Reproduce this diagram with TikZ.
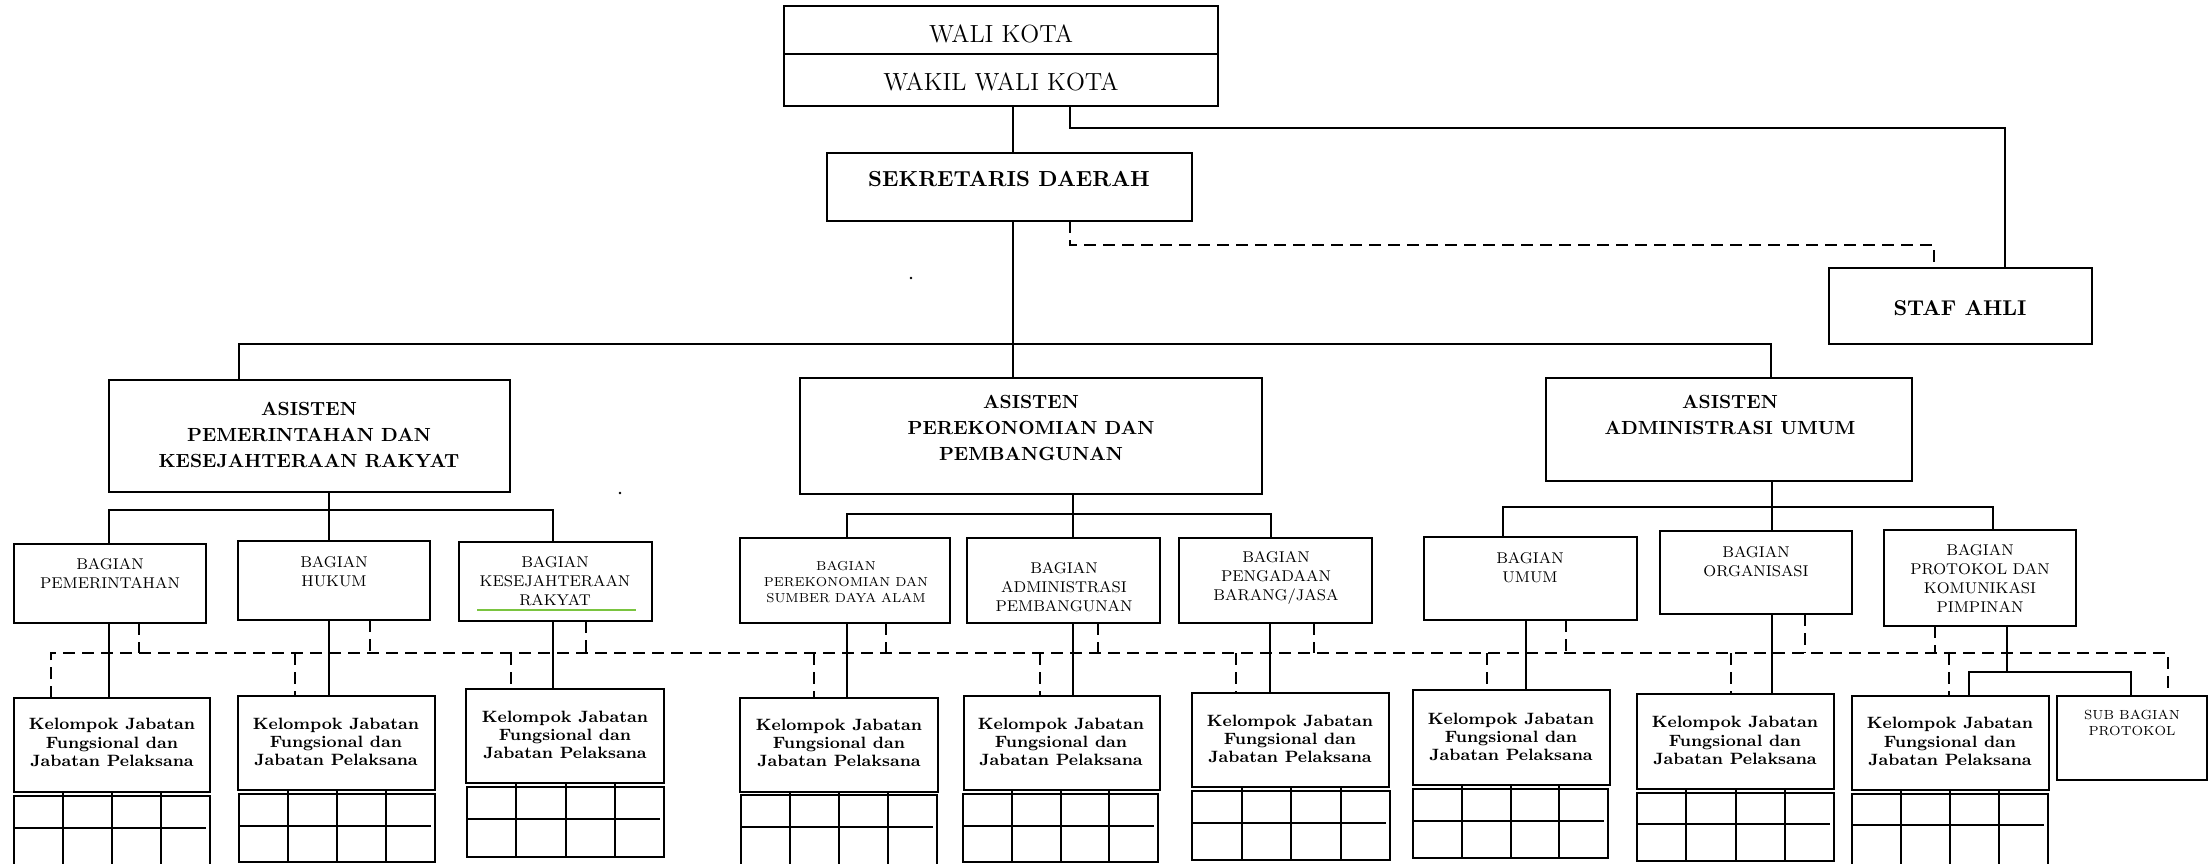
\documentclass[tikz,border=0pt]{standalone}
\usetikzlibrary{calc}
% box helper: style, name, x1, y1, x2, y2 (drawing units, y grows downward)
\newcommand\orgbox[6]{%
  \node[box,#1,minimum width={(#5-#3)*0.5pt},minimum height={(#6-#4)*0.5pt}]
    (#2) at ({(#3+#5)/2},{(#4+#6)/2}) {};}
% 2x4 table under a job-group box: x1, y of box bottom, top, middle rule, bottom, x2
\newcommand\orgtable[6]{%
  \draw[grid] (#1,#3) rectangle (#6,#5);
  \draw[grid,line width=1.2pt] (#1,#4) -- ({#6-4},#4);
  \foreach \k in {1,2,3} {\draw[grid] ({#1+\k*(#6-#1)/4},#2) -- ({#1+\k*(#6-#1)/4},#5);}}
\begin{document}
\begin{tikzpicture}[x=0.5pt,y=-0.5pt,
  box/.style={draw,line width=1.1pt,inner sep=0pt,outer sep=0pt},
  conn/.style={line width=0.9pt},
  dconn/.style={line width=0.9pt,dash pattern=on 6pt off 3.5pt},
  grid/.style={line width=1pt},
  txt/.style={inner sep=0pt,align=center},
  tTop/.style={txt,font=\fontsize{12.4}{15}\selectfont},
  tSek/.style={txt,font=\fontsize{10.9}{13}\selectfont\bfseries},
  tAsis/.style={txt,font=\fontsize{9.5}{12.8}\selectfont\bfseries},
  tBag/.style={txt,font=\fontsize{7.8}{9.5}\selectfont},
  tBagS/.style={txt,font=\fontsize{6.5}{8}\selectfont},
  tKel/.style={txt,font=\fontsize{8.2}{9.2}\selectfont\bfseries}]
\clip (0,0) rectangle (2211,863);

% ---------- top level ----------
\orgbox{}{wali}{784}{6}{1218}{54}
\orgbox{}{wakil}{784}{54}{1218}{106}
\node[tTop] (wali-t) at (1001,34) {WALI KOTA};
\node[tTop] (wakil-t) at (1001,82) {WAKIL WALI KOTA};

\orgbox{}{sek}{827}{153}{1192}{221}
\node[tSek] (sek-t) at (1009,179) {SEKRETARIS DAERAH};

\orgbox{}{staf}{1829}{268}{2092}{344}
\node[tSek,font=\fontsize{10.7}{13}\selectfont\bfseries] (staf-t) at (1960,308) {STAF AHLI};

\draw[conn] (wakil.south -| 1013,0) -- (sek.north -| 1013,0);
\draw[conn] (wakil.south -| 1070,0) -- (1070,128) -| (staf.north -| 2005,0);
\draw[dconn] (sek.south -| 1070,0) -- (1070,245) -| (staf.north -| 1934,0);

% stray marks
\fill (911,278) circle[radius=1.3];
\fill (620,493) circle[radius=1.3];

% ---------- assistants ----------
\orgbox{}{a1}{109}{380}{510}{492}
\orgbox{}{a2}{800}{378}{1262}{494}
\orgbox{}{a3}{1546}{378}{1912}{481}
\node[tAsis] (a1-t) at (309,435) {ASISTEN\\PEMERINTAHAN DAN\\KESEJAHTERAAN RAKYAT};
\node[tAsis] (a2-t) at (1031,428) {ASISTEN\\PEREKONOMIAN DAN\\PEMBANGUNAN};
\node[tAsis] (a3-t) at (1730,415) {ASISTEN\\ADMINISTRASI UMUM};

\draw[conn] (sek.south -| 1013,0) -- (a2.north -| 1013,0);
\draw[conn] (a1.north -| 239,0) -- (239,344) -| (a3.north -| 1771,0);

% ---------- sections ----------
\orgbox{}{b1}{14}{544}{206}{623}
\orgbox{}{b2}{238}{541}{430}{620}
\orgbox{}{b3}{459}{542}{652}{621}
\orgbox{}{b4}{740}{538}{950}{623}
\orgbox{}{b5}{967}{538}{1160}{623}
\orgbox{}{b6}{1179}{538}{1372}{623}
\orgbox{}{b7}{1424}{537}{1637}{620}
\orgbox{}{b8}{1660}{531}{1852}{614}
\orgbox{}{b9}{1884}{530}{2076}{626}

\node[tBag] (b1-t) at (110,574) {BAGIAN\\PEMERINTAHAN};
\node[tBag] (b2-t) at (334,571.5) {BAGIAN\\HUKUM};
\node[tBag] (b3-t) at (555,581.5) {BAGIAN\\KESEJAHTERAAN\\RAKYAT};
\node[tBagS] (b4-t) at (846,582) {BAGIAN\\PEREKONOMIAN DAN\\SUMBER DAYA ALAM};
\node[tBag] (b5-t) at (1064,587) {BAGIAN\\ADMINISTRASI\\PEMBANGUNAN};
\node[tBag] (b6-t) at (1276,578) {BAGIAN\\PENGADAAN\\BARANG/JASA};
\node[tBag] (b7-t) at (1530,568) {BAGIAN\\UMUM};
\node[tBag] (b8-t) at (1756,561.5) {BAGIAN\\ORGANISASI};
\node[tBag] (b9-t) at (1980,578.5) {BAGIAN\\PROTOKOL DAN\\KOMUNIKASI\\PIMPINAN};
\draw[line width=1pt,color={rgb,255:red,122;green,196;blue,64}] (477,610) -- (636,610);

\draw[conn] (a1.south -| 329,0) -- (b2.north -| 329,0);
\draw[conn] (b1.north -| 109,0) -- (109,510) -| (b3.north -| 553,0);
\draw[conn] (a2.south -| 1073,0) -- (b5.north -| 1073,0);
\draw[conn] (b4.north -| 847,0) -- (847,514) -| (b6.north -| 1271,0);
\draw[conn] (a3.south -| 1772,0) -- (b8.north -| 1772,0);
\draw[conn] (b7.north -| 1503,0) -- (1503,507) -| (b9.north -| 1993,0);

% ---------- job groups ----------
\orgbox{}{k1}{14}{698}{210}{792}
\orgbox{}{k2}{238}{696}{435}{790}
\orgbox{}{k3}{466}{689}{664}{783}
\orgbox{}{k4}{740}{698}{938}{792}
\orgbox{}{k5}{964}{696}{1160}{790}
\orgbox{}{k6}{1192}{693}{1389}{787}
\orgbox{}{k7}{1413}{690}{1610}{785}
\orgbox{}{k8}{1637}{694}{1834}{789}
\orgbox{}{k9}{1852}{696}{2049}{790}
\orgbox{}{sub}{2057}{696}{2207}{780}

\node[tKel] (k1-t) at (112,742.5) {Kelompok Jabatan\\Fungsional dan\\Jabatan Pelaksana};
\node[tKel] (k2-t) at (336,742) {Kelompok Jabatan\\Fungsional dan\\Jabatan Pelaksana};
\node[tKel] (k3-t) at (565,735) {Kelompok Jabatan\\Fungsional dan\\Jabatan Pelaksana};
\node[tKel] (k4-t) at (839,743) {Kelompok Jabatan\\Fungsional dan\\Jabatan Pelaksana};
\node[tKel] (k5-t) at (1061,742) {Kelompok Jabatan\\Fungsional dan\\Jabatan Pelaksana};
\node[tKel] (k6-t) at (1290,739) {Kelompok Jabatan\\Fungsional dan\\Jabatan Pelaksana};
\node[tKel] (k7-t) at (1511,737) {Kelompok Jabatan\\Fungsional dan\\Jabatan Pelaksana};
\node[tKel] (k8-t) at (1735,740.5) {Kelompok Jabatan\\Fungsional dan\\Jabatan Pelaksana};
\node[tKel] (k9-t) at (1950,741.5) {Kelompok Jabatan\\Fungsional dan\\Jabatan Pelaksana};
\node[tBagS,font=\fontsize{6.6}{8}\selectfont] (sub-t) at (2132,723) {SUB BAGIAN\\PROTOKOL};

% solid lines section -> job group
\draw[conn] (b1.south -| 109,0) -- (k1.north -| 109,0);
\draw[conn] (b2.south -| 329,0) -- (k2.north -| 329,0);
\draw[conn] (b3.south -| 553,0) -- (k3.north -| 553,0);
\draw[conn] (b4.south -| 847,0) -- (k4.north -| 847,0);
\draw[conn] (b5.south -| 1073,0) -- (k5.north -| 1073,0);
\draw[conn] (b6.south -| 1270,0) -- (k6.north -| 1270,0);
\draw[conn] (b7.south -| 1526,0) -- (k7.north -| 1526,0);
\draw[conn] (b8.south -| 1772,0) -- (k8.north -| 1772,0);
\draw[conn] (b9.south -| 2007,0) -- (2007,672);
\draw[conn] (k9.north -| 1969,0) -- (1969,672) -| (sub.north -| 2131,0);

% dashed coordination line
\coordinate (dend) at (2168,689);
\draw[dconn] (k1.north -| 51,0) -- (51,653) -- (2168,653) -- (dend);
\foreach \bx/\xx in {b1/139,b2/370,b3/586,b4/886,b5/1098,b6/1314,b7/1566,b8/1805,b9/1935}
  \draw[dconn] (\bx.south -| \xx,0) -- (\xx,653);
\foreach \kx/\xx in {k2/295,k3/511,k4/814,k5/1040,k6/1236,k7/1487,k8/1731,k9/1949}
  \draw[dconn] (\xx,653) -- (\kx.north -| \xx,0);

% ---------- tables ----------
\orgtable{14}{792}{796}{828}{880}{210}
\orgtable{239}{790}{794}{826}{862}{435}
\orgtable{467}{783}{787}{819}{857}{664}
\orgtable{741}{792}{795}{827}{880}{937}
\orgtable{963}{790}{794}{826}{862}{1158}
\orgtable{1192}{787}{791}{823}{860}{1390}
\orgtable{1413}{785}{789}{821}{858}{1608}
\orgtable{1637}{789}{793}{824}{861}{1834}
\orgtable{1852}{790}{794}{825}{880}{2048}
\end{tikzpicture}
\end{document}
